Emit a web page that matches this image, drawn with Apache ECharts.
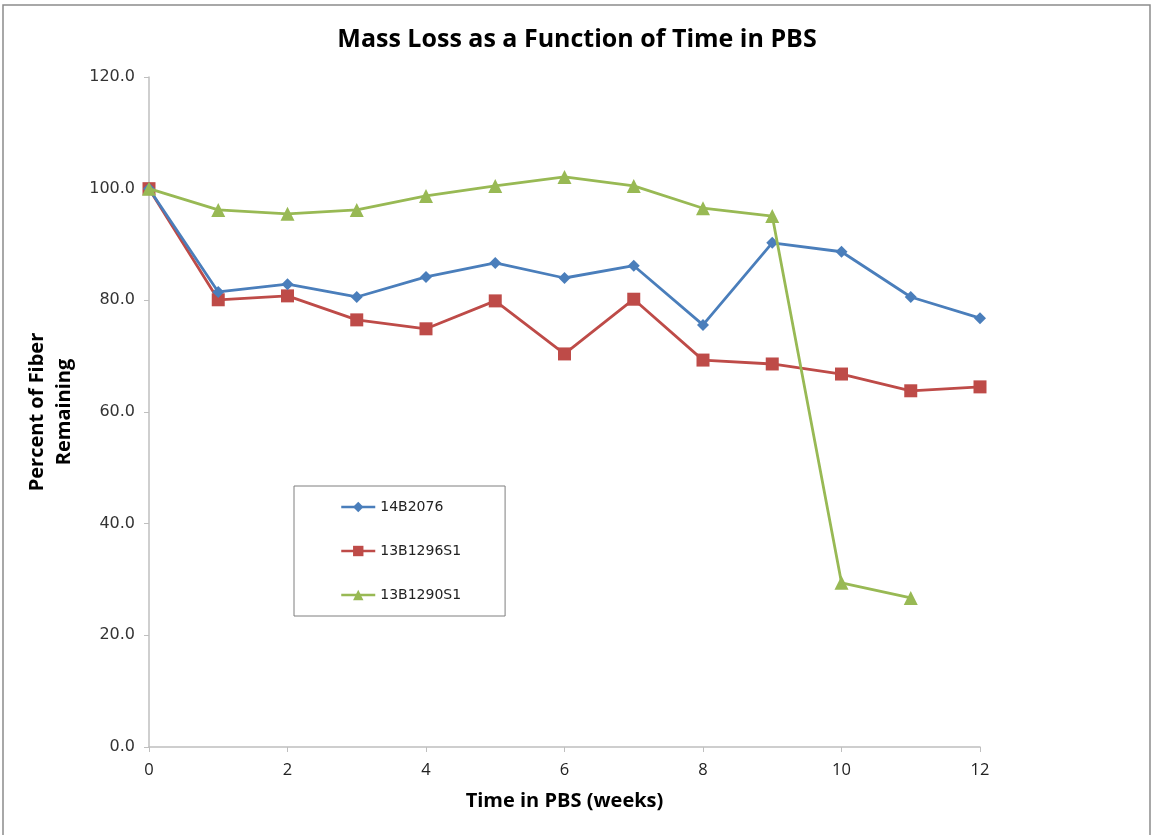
<!DOCTYPE html>
<html>
<head>
<meta charset="utf-8">
<script src="https://cdn.jsdelivr.net/npm/echarts@6/dist/echarts.min.js"></script>
<style>
html,body{margin:0;padding:0;background:#fff;}
#chart{width:1154px;height:835px;}
</style>
</head>
<body>
<div id="chart"></div>
<script>
const weeks = [0,1,2,3,4,5,6,7,8,9,10,11,12];
const s14B2076 = [100.0,81.5,82.9,80.6,84.2,86.7,84.0,86.2,75.6,90.3,88.7,80.6,76.8];
const s13B1296S1 = [100.0,80.1,80.8,76.5,74.9,79.9,70.4,80.2,69.3,68.6,66.8,63.8,64.5];
const s13B1290S1 = [100.0,96.2,95.5,96.2,98.7,100.5,102.1,100.5,96.5,95.1,29.4,26.7];
const seriesNames = ['14B2076','13B1296S1','13B1290S1'];

function pairs(vals){ return vals.map((v,i)=>[weeks[i], v]); }

const chart = echarts.init(document.getElementById('chart'));
const axisGray = '#bfbfbf';
chart.setOption({
  animation:false,
  backgroundColor:'#fff',
  graphic:[{type:'rect', shape:{x:3,y:5,width:1147,height:840}, style:{fill:'none', stroke:'#8c8c8c', lineWidth:1.5}, z:-1, silent:true}],
  title:{text:'Mass Loss as a Function of Time in PBS', left:'center', top:22,
    textStyle:{fontFamily:'Open Sans', fontWeight:'bold', fontSize:25, color:'#000'}},
  grid:{left:149, right:174, top:77, bottom:88},
  legend:{
    data:seriesNames, orient:'vertical', left:294, top:486,
    padding:[14,44,14,46], itemGap:30, itemWidth:34, itemHeight:13,
    borderColor:'#7f7f7f', borderWidth:1, backgroundColor:'#fff',
    lineStyle:{width:2.5},
    textStyle:{fontFamily:'DejaVu Sans', fontSize:14, color:'#222'}
  },
  xAxis:{type:'value', min:0, max:12, interval:2,
    name:'Time in PBS (weeks)', nameLocation:'middle', nameGap:44,
    nameTextStyle:{fontFamily:'Open Sans', fontWeight:'bold', fontSize:20, color:'#000'},
    axisLine:{lineStyle:{color:axisGray, width:1.5}},
    axisTick:{show:true, length:5, lineStyle:{color:axisGray}},
    splitLine:{show:false},
    axisLabel:{margin:15, fontFamily:'Open Sans', fontSize:16.5, color:'#222'}
  },
  yAxis:{type:'value', min:0, max:120, interval:20,
    name:'Percent of Fiber\nRemaining', nameLocation:'middle', nameGap:65, nameRotate:90,
    nameTextStyle:{fontFamily:'Open Sans', fontWeight:'bold', fontSize:20, color:'#000', lineHeight:27},
    axisLine:{show:true, lineStyle:{color:axisGray, width:1.5}},
    axisTick:{show:true, length:5, lineStyle:{color:axisGray}},
    splitLine:{show:false},
    axisLabel:{margin:14, fontFamily:'DejaVu Sans', fontSize:16, color:'#333', formatter:v=>v.toFixed(1)}
  },
  series:[
    {name:seriesNames[0], type:'line', data:pairs(s14B2076), symbol:'diamond', symbolSize:12,
      color:'#4a7ebb', lineStyle:{width:2.8, color:'#4a7ebb'}, itemStyle:{color:'#4a7ebb'}, z:3},
    {name:seriesNames[1], type:'line', data:pairs(s13B1296S1), symbol:'rect', symbolSize:13,
      color:'#be4b48', lineStyle:{width:2.8, color:'#be4b48'}, itemStyle:{color:'#be4b48'}, z:2},
    {name:seriesNames[2], type:'line', data:pairs(s13B1290S1), symbol:'triangle', symbolSize:14,
      color:'#98b954', lineStyle:{width:2.8, color:'#98b954'}, itemStyle:{color:'#98b954'}, z:4}
  ]
});
</script>
</body>
</html>
